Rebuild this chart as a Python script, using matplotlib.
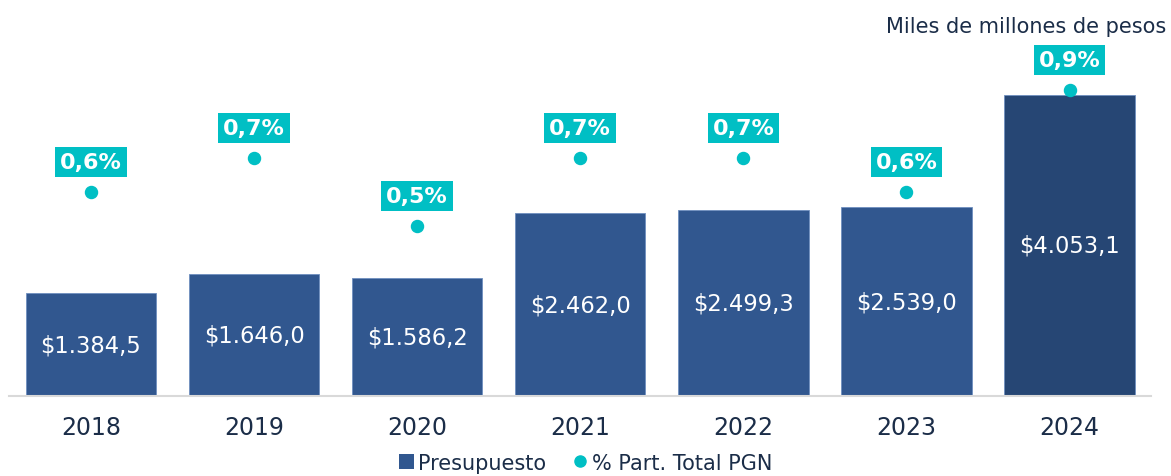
import matplotlib.pyplot as plt
from matplotlib.lines import Line2D
from matplotlib.patches import Patch

years = ['2018', '2019', '2020', '2021', '2022', '2023', '2024']
presupuesto = [1384.5, 1646.0, 1586.2, 2462.0, 2499.3, 2539.0, 4053.1]
participacion = [0.6, 0.7, 0.5, 0.7, 0.7, 0.6, 0.9]

bar_color = '#31578f'
last_color = '#264674'
teal = '#00bfc4'
text_color = '#1b2d48'

plt.rcParams['font.family'] = 'DejaVu Sans'

fig = plt.figure(figsize=(11.71, 4.77), dpi=100)
ax = fig.add_axes([0.008, 0.1677, 0.975, 0.8323])
ax2 = ax.twinx()

xs = range(len(years))
colors = [bar_color] * (len(years) - 1) + [last_color]
bars = ax.bar(xs, presupuesto, width=0.80, color=colors, edgecolor='#6f8fbf', linewidth=0.6)
ax.set_xlim(-0.5, 6.5)
ax.set_ylim(0, 5345)

def fmt_money(v):
    s = f'{v:,.1f}'
    return '$' + s.replace(',', 'X').replace('.', ',').replace('X', '.')

for x, v in zip(xs, presupuesto):
    ax.text(x, v / 2, fmt_money(v), ha='center', va='center', color='white', fontsize=16.3)

ax2.set_ylim(0, 1.168)
ax2.scatter(xs, participacion, s=75, color=teal, zorder=5)
for x, p in zip(xs, participacion):
    ax2.annotate(f'{p:.1f}%'.replace('.', ','), (x, p), xytext=(0, 30), textcoords='offset pixels',
                 ha='center', va='center', color='white', fontsize=16, fontweight='bold',
                 bbox=dict(boxstyle='square,pad=0.22', fc=teal, ec='none'))

for a in (ax, ax2):
    a.set_yticks([])
    for s in ['top', 'right', 'left']:
        a.spines[s].set_visible(False)
ax2.spines['bottom'].set_visible(False)
ax.spines['bottom'].set_color('#d9d9d9')
ax.spines['bottom'].set_linewidth(1.5)

ax.set_xticks(list(xs))
ax.set_xticklabels(years, fontsize=17, color=text_color)
ax.tick_params(axis='x', length=0, pad=14)

fig.text(0.9957, 0.943, 'Miles de millones de pesos', ha='right', va='center',
         fontsize=15, color=text_color)

handles = [Patch(facecolor=bar_color, label='Presupuesto'),
           Line2D([], [], marker='o', linestyle='none', color=teal, markersize=8,
                  label='% Part. Total PGN')]
fig.legend(handles=handles, loc='center', bbox_to_anchor=(0.5, 0.028), ncol=2, frameon=False,
           fontsize=15, labelcolor=text_color, handlelength=0.7, handleheight=0.7,
           handletextpad=0.2, columnspacing=1.3)

fig.savefig('out.png', dpi=100)
